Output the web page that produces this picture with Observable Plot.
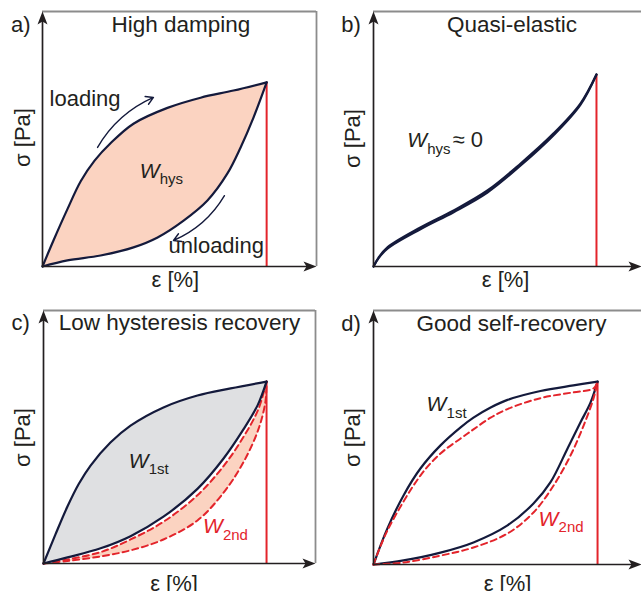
<!DOCTYPE html>
<html><head><meta charset="utf-8">
<script src="https://cdn.jsdelivr.net/npm/d3@7"></script>
<script src="https://cdn.jsdelivr.net/npm/@observablehq/plot@0.6"></script>
<style>
body{margin:0;background:#fff}
#fig{position:relative;width:641px;height:591px;overflow:hidden;background:#fff}
.p{position:absolute}
</style>
</head><body><div id="fig"></div>
<script>
// ---- Data (strain, stress in % of axis length) ----
// a) High damping
const aLoadX   = [0, 4.0, 9.1, 14.0, 19.0, 25.0, 33.2, 45.6, 57.7, 69.7, 81.8];
const aLoadY   = [0, 10.2, 22.5, 33.5, 41.5, 48.5, 56.0, 62.2, 66.2, 69.0, 72.2];
const aUnloadX = [0, 9.1, 21.2, 33.2, 42.0, 51.5, 60.2, 67.5, 72.3, 77.0, 81.8];
const aUnloadY = [0, 2.4, 4.3, 7.5, 11.4, 18.0, 25.9, 36.5, 46.7, 58.4, 72.2];
// b) Quasi-elastic
const bX       = [0, 1.9, 5.2, 17.5, 29.9, 42.5, 54.9, 67.2, 77.2, 83.2];
const bLoadY   = [0, 3.5, 7.5, 15.3, 22.0, 29.8, 40.4, 52.2, 63.9, 75.3];
const bUnloadY = [0, 3.3, 7.0, 14.6, 21.3, 29.0, 39.6, 51.5, 63.4, 75.3];
// c) Low hysteresis recovery
const cLoad1X   = [0, 4.4, 8.8, 13.0, 17.3, 24.6, 32.0, 44.1, 56.6, 68.8, 82.0];
const cLoad1Y   = [0, 11.5, 22.5, 31.5, 38.7, 47.8, 54.5, 61.7, 66.4, 69.2, 71.9];
const cUnload1X = [0, 8.8, 21.0, 32.0, 44.1, 56.6, 66.2, 73.5, 78.7, 82.0];
const cUnload1Y = [0, 2.4, 6.0, 10.8, 18.5, 29.5, 41.5, 53.0, 62.5, 71.9];
const cLoad2X   = [0, 8.8, 21.0, 32.0, 44.1, 56.6, 66.2, 73.5, 79.0, 82.0];
const cLoad2Y   = [0, 1.6, 4.5, 9.5, 16.5, 27.0, 38.5, 50.0, 61.0, 71.9];
const cUnload2X = [0, 8.8, 21.0, 32.0, 44.1, 56.6, 66.2, 73.5, 79.0, 81.6, 82.0];
const cUnload2Y = [0, 1.0, 2.8, 5.2, 9.5, 17.0, 28.0, 40.0, 53.0, 64.0, 71.9];
// d) Good self-recovery
const dLoad1X   = [0, 5.2, 11.2, 17.5, 25.0, 32.5, 37.3, 43.7, 50.0, 62.3, 74.6, 83.6];
const dLoad1Y   = [0, 14.2, 27.2, 37.8, 46.9, 54.0, 57.8, 61.8, 64.8, 68.3, 70.5, 72.0];
const dLoad2X   = [0, 5.2, 17.5, 25.0, 32.5, 37.3, 43.7, 50.0, 62.3, 74.6, 82.1, 83.6];
const dLoad2Y   = [0, 13.4, 35.0, 43.7, 49.6, 53.2, 57.8, 61.2, 65.5, 67.8, 69.3, 72.0];
const dUnload1X = [0, 11.2, 25.0, 37.3, 50.0, 59.7, 66.0, 72.4, 77.2, 81.0, 83.6];
const dUnload1Y = [0, 1.6, 4.7, 8.7, 15.4, 24.0, 32.3, 45.7, 55.9, 63.8, 72.0];
const dUnload2X = [0, 11.2, 25.0, 37.3, 50.0, 59.7, 67.2, 73.5, 78.4, 82.1, 83.6];
const dUnload2Y = [0, 0.8, 3.5, 6.7, 12.2, 20.5, 31.1, 42.9, 54.7, 65.4, 72.0];

const panelLetters = ["a)", "b)", "c)", "d)"];
const panelTitles = ["High damping", "Quasi-elastic", "Low hysteresis recovery", "Good self-recovery"];
const xLabel = "ε [%]";
const yLabel = "σ [Pa]";

// ---- Styles ----
const NAVY = "#141a3c", RED = "#e3242b", SALMON = "#fbd3c1", GRAY = "#dfe0e2",
      INK = "#231f20", FRAME = "#8c8c8c";
const FONT = "'Liberation Sans', Arial, Helvetica, sans-serif";
const CURVE = "catmull-rom";
const FS = 22;

function pts(xs, ys) { return xs.map((x, i) => ({x, y: ys[i]})); }
function loop(lx, ly, ux, uy) { return [...pts(lx, ly), ...pts(ux, uy).reverse()]; }

const headSym = {draw(ctx) { ctx.moveTo(0, 0); ctx.lineTo(5, 13); ctx.lineTo(0, 10); ctx.lineTo(-5, 13); ctx.closePath(); }};

function txt(s, x, y, o = {}) {
  return Plot.text([{x, y, t: s}], {x: "x", y: "y", text: "t", fontSize: FS, fill: INK, ...o});
}
function wlab(x, y, sub, color, dy) {
  return [
    txt("W", x, y, {fontSize: 21, fontStyle: "italic", textAnchor: "start", lineAnchor: "bottom", fill: color}),
    txt(sub, x, y, {dx: 20, dy, fontSize: 15, textAnchor: "start", lineAnchor: "bottom", fill: color})
  ];
}
function solid(xs, ys) { return Plot.line(pts(xs, ys), {x: "x", y: "y", stroke: NAVY, strokeWidth: 2.2, curve: CURVE}); }
function dashed(xs, ys) { return Plot.line(pts(xs, ys), {x: "x", y: "y", stroke: RED, strokeWidth: 2, strokeDasharray: "6,4", curve: CURVE}); }
function area(poly, color) { return Plot.line(poly, {x: "x", y: "y", fill: color, stroke: "none", curve: CURVE}); }
function redRule(xs, ys) {
  const n = xs.length - 1;
  return Plot.ruleX([{x: xs[n], y: ys[n]}], {x: "x", y1: 0, y2: "y", stroke: RED, strokeWidth: 2});
}

function makePanel(cfg) {
  const frame = [Plot.ruleY([100], {stroke: FRAME, strokeWidth: 1.8})];
  if (cfg.rightFrame) frame.push(Plot.ruleX([100], {y1: 0, y2: 100, stroke: FRAME, strokeWidth: 1.8}));
  const axes = [
    Plot.ruleX([0], {y1: 0, y2: 97, stroke: INK, strokeWidth: 1.7}),
    Plot.ruleY([0], {x1: 0, x2: 97, stroke: INK, strokeWidth: 1.7}),
    Plot.dot([{x: 0, y: 100}], {x: "x", y: "y", symbol: headSym, fill: INK}),
    Plot.dot([{x: 100, y: 0}], {x: "x", y: "y", symbol: headSym, fill: INK, rotate: 90})
  ];
  const labels = [
    txt(cfg.letter, cfg.letterX, cfg.titleY, {textAnchor: "start", lineAnchor: "bottom"}),
    txt(cfg.title, cfg.titleX, cfg.titleY, {textAnchor: "middle", lineAnchor: "bottom", fontSize: 22.5}),
    txt(xLabel, cfg.xlabX, cfg.xlabY, {textAnchor: "middle", lineAnchor: "bottom"}),
    txt(yLabel, cfg.ylabX, cfg.ylabY, {textAnchor: "middle", lineAnchor: "middle", rotate: -90})
  ];
  const svg = Plot.plot({
    width: cfg.width, height: cfg.height,
    marginLeft: cfg.ml, marginTop: cfg.mt, marginRight: cfg.mr, marginBottom: cfg.mb,
    x: {domain: [0, 100], axis: null},
    y: {domain: [0, 100], axis: null},
    style: {fontFamily: FONT, background: "transparent", overflow: "visible"},
    marks: [...cfg.marks, ...frame, ...axes, ...labels]
  });
  const div = document.createElement("div");
  div.className = "p";
  div.style.left = cfg.left + "px";
  div.style.top = cfg.top + "px";
  div.appendChild(svg);
  document.getElementById("fig").appendChild(div);
}

// a)
makePanel({
  left: 0, top: 0, width: 320, height: 295, ml: 42, mt: 11, mr: 4, mb: 29, rightFrame: true,
  letter: panelLetters[0], letterX: -11.5, title: panelTitles[0], titleX: 50.5, titleY: 91.8,
  xlabX: 48.5, xlabY: -8.2, ylabX: -7.3, ylabY: 50.6,
  marks: [
    area(loop(aLoadX, aLoadY, aUnloadX, aUnloadY), SALMON),
    redRule(aLoadX, aLoadY),
    solid(aLoadX, aLoadY), solid(aUnloadX, aUnloadY),
    Plot.arrow([{x1: 20.1, y1: 46.7, x2: 40.5, y2: 66.3}], {x1: "x1", y1: "y1", x2: "x2", y2: "y2", bend: 18, stroke: NAVY, strokeWidth: 1.4, headLength: 9}),
    Plot.arrow([{x1: 66.4, y1: 27.8, x2: 47.8, y2: 10.2}], {x1: "x1", y1: "y1", x2: "x2", y2: "y2", bend: 18, stroke: NAVY, strokeWidth: 1.4, headLength: 9}),
    txt("loading", 2.6, 63.1, {textAnchor: "start", lineAnchor: "bottom"}),
    txt("unloading", 46.0, 5.1, {textAnchor: "start", lineAnchor: "bottom"}),
    ...wlab(35.5, 34.9, "hys", INK, 6)
  ]
});

// b)
makePanel({
  left: 320, top: 0, width: 321, height: 295, ml: 53, mt: 11, mr: 0, mb: 29, rightFrame: false,
  letter: panelLetters[1], letterX: -12.0, title: panelTitles[1], titleX: 51.7, titleY: 91.8,
  xlabX: 49.3, xlabY: -8.2, ylabX: -7.5, ylabY: 50.2,
  marks: [
    area(loop(bX, bLoadY, bX, bUnloadY), SALMON),
    redRule(bX, bLoadY),
    solid(bX, bLoadY), solid(bX, bUnloadY),
    ...wlab(12.6, 46.7, "hys", INK, 7),
    txt("≈ 0", 29.5, 46.7, {textAnchor: "start", lineAnchor: "bottom"})
  ]
});

// c)
makePanel({
  left: 0, top: 295, width: 320, height: 296, ml: 43, mt: 15, mr: 5, mb: 28, rightFrame: true,
  letter: panelLetters[2], letterX: -11.8, title: panelTitles[2], titleX: 50.0, titleY: 92.1,
  xlabX: 48.0, xlabY: -10.7, ylabX: -7.7, ylabY: 49.8,
  marks: [
    area(loop(cLoad1X, cLoad1Y, cUnload1X, cUnload1Y), GRAY),
    area(loop(cLoad2X, cLoad2Y, cUnload2X, cUnload2Y), SALMON),
    redRule(cLoad1X, cLoad1Y),
    dashed(cLoad2X, cLoad2Y), dashed(cUnload2X, cUnload2Y),
    solid(cLoad1X, cLoad1Y), solid(cUnload1X, cUnload1Y),
    ...wlab(31.3, 37.9, "1st", INK, 6),
    ...wlab(58.6, 11.9, "2nd", RED, 7)
  ]
});

// d)
makePanel({
  left: 320, top: 295, width: 321, height: 296, ml: 53, mt: 15, mr: 0, mb: 27, rightFrame: false,
  letter: panelLetters[3], letterX: -12.0, title: panelTitles[3], titleX: 51.5, titleY: 92.1,
  xlabX: 50.0, xlabY: -10.6, ylabX: -7.5, ylabY: 50.0,
  marks: [
    redRule(dLoad1X, dLoad1Y),
    solid(dLoad1X, dLoad1Y), solid(dUnload1X, dUnload1Y),
    dashed(dLoad2X, dLoad2Y), dashed(dUnload2X, dUnload2Y),
    ...wlab(19.8, 60.6, "1st", INK, 7),
    ...wlab(61.6, 15.0, "2nd", RED, 6)
  ]
});
</script>
</body></html>
